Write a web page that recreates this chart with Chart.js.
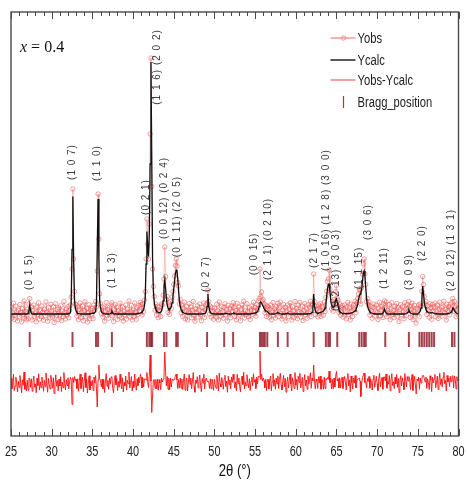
<!DOCTYPE html>
<html>
<head>
<meta charset="utf-8">
<script src="https://cdn.jsdelivr.net/npm/chart.js@4/dist/chart.umd.min.js"></script>
<style>
  html, body { margin: 0; padding: 0; background: #fff; }
  canvas { display: block; }
</style>
</head>
<body>
<canvas id="xrdChart" width="468" height="488"></canvas>
<script>
// Rietveld fit, x = 0.4

// scan grid: 25..80 deg 2theta, 0.1 deg step
const scanStart = 25;
const scanStep = 0.1;

// calculated profile, one row per degree (N.0 .. N.9)
const yCalc = [
  200,200,200,200,200,200,200,200,200,200, // 25
  200,200,200,200,200,200,200,200,200,200,
  200,202,212,236,214,203,201,200,200,200,
  200,200,200,200,200,200,200,200,200,200,
  200,200,200,200,200,200,200,200,200,200,
  200,200,200,200,200,200,200,200,200,200, // 30
  200,200,200,200,200,200,200,200,200,200,
  201,201,202,205,247,458,670,411,256,223,
  212,206,203,202,201,200,200,200,200,200,
  200,200,200,200,200,200,200,201,201,202,
  203,203,204,206,212,240,460,660,420,255, // 35
  222,210,205,203,202,201,200,200,200,200,
  200,200,201,204,212,205,201,200,200,200,
  200,200,200,200,200,200,200,200,200,200,
  200,200,200,200,200,200,200,200,200,200,
  200,200,200,200,200,201,201,202,203,204, // 40
  206,208,212,218,232,265,400,530,470,430,
  520,800,1208,820,420,290,248,228,218,212,
  208,206,205,206,208,213,224,252,310,336,
  300,262,236,224,218,218,222,230,245,270,
  300,330,360,376,372,340,290,252,230,218, // 45
  212,208,205,203,202,201,201,200,200,200,
  200,200,200,200,200,200,200,200,200,200,
  200,200,200,200,200,200,201,201,202,203,
  210,230,280,236,214,206,203,202,201,200,
  200,200,200,200,200,200,200,200,200,200, // 50
  200,200,201,202,203,202,201,200,200,200,
  200,200,201,202,204,202,201,200,200,200,
  200,200,200,200,200,200,200,200,200,200,
  200,200,200,200,200,201,201,202,202,203,
  204,205,207,210,216,230,244,248,244,236, // 55
  230,222,216,213,212,210,206,203,201,200,
  200,200,200,200,200,201,202,204,206,204,
  202,201,200,200,200,200,200,200,201,202,
  204,202,201,200,200,200,200,200,200,200,
  200,200,200,200,200,200,200,200,200,200, // 60
  200,200,200,200,200,200,201,201,202,203,
  206,222,280,234,214,207,204,203,203,205,
  206,207,208,210,212,216,224,240,270,300,
  318,320,290,255,236,228,226,230,240,255,
  260,246,230,218,211,207,205,203,202,202, // 65
  202,201,201,201,201,202,202,203,204,205,
  206,208,210,213,218,226,238,255,272,280,
  286,300,330,362,372,350,305,262,236,222,
  214,209,206,204,203,202,201,201,200,200,
  200,200,200,200,200,200,201,203,208,220, // 70
  210,204,202,201,200,200,200,200,200,200,
  200,200,200,200,200,200,200,200,200,200,
  200,200,200,200,200,201,202,204,208,216,
  208,204,202,201,200,200,200,200,200,200,
  202,204,207,212,224,262,312,280,245,228, // 75
  218,212,208,206,205,204,204,205,206,204,
  203,202,201,201,200,200,200,200,200,200,
  200,200,200,200,200,200,201,201,202,203,
  205,208,214,224,222,214,208,205,203,202,
  201                                      // 80
];

// observed counts on the same grid
const yObs = [
  226,184,205,243,178,196,231,209,172,215, // 25
  190,238,207,169,221,199,252,183,210,176,
  219,181,240,262,205,228,176,214,236,191,
  204,169,227,198,245,180,213,189,232,207,
  175,219,193,248,207,171,226,202,184,239,
  211,187,229,166,203,241,195,218,177,224, // 30
  196,233,174,212,189,250,206,180,221,198,
  230,185,214,236,268,380,700,420,290,241,
  236,192,228,177,219,244,186,208,231,173,
  214,249,190,223,168,205,237,181,216,199,
  222,181,236,214,250,228,372,680,500,281, // 35
  241,203,229,188,224,171,213,246,195,218,
  183,227,204,236,245,192,170,219,238,201,
  226,178,214,191,243,207,185,229,172,210,
  197,236,180,219,205,252,188,211,234,176,
  215,190,244,207,179,226,198,233,212,247, // 40
  238,196,241,210,256,290,420,580,480,420,
  560,920,1224,710,380,310,270,215,240,196,
  231,185,227,214,190,240,236,275,340,468,
  350,258,270,206,245,199,250,222,268,290,
  318,352,395,420,392,326,312,240,258,205, // 45
  236,190,222,247,181,214,229,176,208,242,
  203,228,185,216,250,194,171,220,207,233,
  188,215,240,197,173,226,209,244,186,218,
  238,244,296,250,200,231,188,226,210,179,
  224,201,187,239,213,176,248,205,192,230, // 50
  209,183,227,241,196,218,172,235,201,220,
  185,232,211,245,226,190,214,177,243,205,
  228,196,173,219,236,202,251,184,213,197,
  241,210,189,225,178,216,232,199,247,214,
  226,191,238,215,252,262,380,270,288,252, // 55
  258,240,205,236,190,232,228,187,219,236,
  177,213,246,195,221,184,230,208,243,190,
  225,248,201,180,216,238,193,227,172,211,
  236,190,218,244,203,176,229,212,186,250,
  199,223,181,235,210,247,188,205,231,174, // 60
  214,242,196,220,183,237,204,228,251,190,
  234,240,360,250,198,231,220,189,236,214,
  242,190,231,226,195,248,210,266,291,330,
  340,376,300,282,220,250,211,258,232,290,
  314,262,255,206,240,195,226,234,188,219, // 65
  236,212,181,229,247,198,223,176,240,214,
  190,236,218,251,206,244,262,280,300,295,
  240,306,360,400,420,360,318,250,262,236,
  248,196,230,215,183,226,240,192,211,235,
  205,178,224,247,193,216,231,186,240,252, // 70
  226,248,189,215,203,238,177,220,245,198,
  213,186,231,205,242,191,226,170,218,237,
  196,229,210,181,246,220,195,238,224,250,
  231,186,219,243,178,212,235,200,164,223,
  219,236,190,240,232,290,350,318,270,240, // 75
  250,198,233,216,187,241,225,179,238,212,
  228,244,190,213,236,182,219,247,201,225,
  192,230,251,205,218,176,239,214,229,196,
  240,221,247,262,210,250,231,189,236,218,
  224                                      // 80
];

// Bragg reflection positions (deg)
const braggPositions = [
  27.3, 32.56, 35.45, 35.7, 37.4, 41.7, 42.0, 42.2, 42.35,
  43.8, 44.1, 45.3, 45.5, 49.1, 51.2, 52.3,
  55.6, 55.8, 56.0, 56.2, 56.5, 57.8, 59.0,
  62.2, 63.7, 64.0, 64.2, 65.1, 67.8, 68.1, 68.4, 68.6,
  71.0, 73.9, 75.2, 75.5, 75.8, 76.1, 76.4, 76.7, 77.0, 79.2, 79.5
];

// Miller index labels, their 2theta and the height they sit at
const hklLabels = [
  '(0 1 5)', '(1 0 7)', '(1 1 0)', '(1 1 3)', '(0 2 1)', '(1 1 6) (2 0 2)',
  '(0 0 12) (0 2 4)', '(0 1 11) (2 0 5)', '(0 2 7)', '(0 0 15)',
  '(2 1 1) (0 2 10)', '(2 1 7)', '(1 0 16) (1 2 8) (3 0 0)', '(0 2 13) (3 0 3)',
  '(1 1 15)', '(3 0 6)', '(1 2 11)', '(3 0 9)', '(2 2 0)', '(2 0 12) (1 3 1)'
];
const hklTwoTheta = [
  27.3, 32.56, 35.6, 37.4, 41.6, 42.93, 43.8, 45.4, 49.0, 54.9,
  56.6, 62.3, 63.8, 65.0, 67.8, 68.9, 70.85, 73.9, 75.6, 79.15
];
const hklHeight = [
  368, 808, 804, 376, 668, 1188, 664, 590, 360, 440,
  500, 456, 616, 376, 384, 568, 384, 368, 484, 456
];

const xTickValues = [25, 30, 35, 40, 45, 50, 55, 60, 65, 70, 75, 80];

// ---- build the datasets ----
const twoTheta = yObs.map((_, i) => +(scanStart + i * scanStep).toFixed(1));
const diffOffset = -84;   // where the difference curve is drawn
const braggLevel = 98;    // row of Bragg ticks

const obsPts = twoTheta.map((t, i) => ({ x: t, y: yObs[i] }));
const calcPts = twoTheta.map((t, i) => ({ x: t, y: yCalc[i] }));
const diffPts = twoTheta.map((t, i) => ({ x: t, y: yObs[i] - yCalc[i] + diffOffset }));
const braggPts = braggPositions.map(p => ({ x: p, y: braggLevel }));

const sans = "'Liberation Sans', Arial, sans-serif";

// Arial-Narrow look: squeeze regular sans horizontally
function narrowText(ctx, text, x, y, align, squeeze) {
  ctx.save();
  ctx.translate(x, y);
  ctx.scale(squeeze, 1);
  ctx.textAlign = align;
  ctx.fillText(text, 0, 0);
  ctx.restore();
}

const decorPlugin = {
  id: 'decor',
  afterDatasetsDraw(chart) {
    const { ctx, chartArea: a, scales: { x, y } } = chart;
    ctx.save();

    // frame + inward ticks
    ctx.strokeStyle = '#4a4a4a';
    ctx.lineWidth = 1.4;
    ctx.strokeRect(a.left, a.top, a.right - a.left, a.bottom - a.top);
    ctx.lineWidth = 1;
    for (let v = 25; v <= 80; v++) {
      const px = Math.round(x.getPixelForValue(v)) + 0.5;
      const len = v % 5 === 0 ? 7 : 4;
      ctx.beginPath();
      ctx.moveTo(px, a.bottom); ctx.lineTo(px, a.bottom - len);
      ctx.moveTo(px, a.top); ctx.lineTo(px, a.top + len);
      ctx.stroke();
    }

    // tick labels and axis title
    ctx.fillStyle = '#222';
    ctx.textBaseline = 'middle';
    ctx.font = '14px ' + sans;
    xTickValues.forEach(v => narrowText(ctx, String(v), x.getPixelForValue(v), a.bottom + 16, 'center', 0.78));
    ctx.fillStyle = '#111';
    ctx.font = '16px ' + sans;
    narrowText(ctx, '2θ (°)', (a.left + a.right) / 2, a.bottom + 36, 'center', 0.82);

    // hkl labels
    ctx.font = '10px ' + sans;
    ctx.fillStyle = '#3c3c3c';
    ctx.letterSpacing = '1px';
    ctx.textAlign = 'center';
    hklLabels.forEach((t, i) => {
      ctx.save();
      ctx.translate(x.getPixelForValue(hklTwoTheta[i]), y.getPixelForValue(hklHeight[i]));
      ctx.rotate(-Math.PI / 2);
      ctx.fillText(t, 0, 0);
      ctx.restore();
    });
    ctx.letterSpacing = '0px';

    // composition label
    ctx.textAlign = 'left';
    ctx.fillStyle = '#111';
    ctx.font = "italic 16px 'Liberation Serif', 'Times New Roman', serif";
    const lx = a.left + 9, ly = a.top + 36;
    ctx.fillText('x', lx, ly);
    const w = ctx.measureText('x').width;
    ctx.font = "16px 'Liberation Serif', 'Times New Roman', serif";
    ctx.fillText(' = 0.4', lx + w, ly);

    // legend
    const gx = a.right - 128, rows = [a.top + 26, a.top + 48, a.top + 68, a.top + 90];
    ctx.font = '14px ' + sans;
    ctx.fillStyle = '#222';
    ['Yobs', 'Ycalc', 'Yobs-Ycalc', 'Bragg_position'].forEach((t, i) => {
      narrowText(ctx, t, gx + 27, rows[i] + 1, 'left', 0.8);
    });
    ctx.lineWidth = 1.3;
    ctx.strokeStyle = '#f08a8a';
    ctx.beginPath(); ctx.moveTo(gx, rows[0]); ctx.lineTo(gx + 25, rows[0]); ctx.stroke();
    ctx.lineWidth = 0.9;
    ctx.beginPath(); ctx.arc(gx + 13, rows[0], 2.2, 0, Math.PI * 2); ctx.stroke();
    ctx.lineWidth = 1.4;
    ctx.strokeStyle = '#111';
    ctx.beginPath(); ctx.moveTo(gx, rows[1]); ctx.lineTo(gx + 25, rows[1]); ctx.stroke();
    ctx.strokeStyle = '#f07878';
    ctx.beginPath(); ctx.moveTo(gx, rows[2]); ctx.lineTo(gx + 25, rows[2]); ctx.stroke();
    ctx.strokeStyle = '#b8303a';
    ctx.lineWidth = 1.2;
    ctx.beginPath(); ctx.moveTo(gx + 13, rows[3] - 6); ctx.lineTo(gx + 13, rows[3] + 6); ctx.stroke();

    ctx.restore();
  }
};

new Chart(document.getElementById('xrdChart'), {
  type: 'scatter',
  data: {
    datasets: [
      {
        label: 'Ycalc',
        data: calcPts,
        showLine: true,
        borderColor: '#111',
        borderWidth: 1.3,
        pointRadius: 0,
        order: 1
      },
      {
        label: 'Yobs-Ycalc',
        data: diffPts,
        showLine: true,
        borderColor: '#ff1010',
        borderWidth: 0.9,
        pointRadius: 0,
        order: 2
      },
      {
        label: 'Bragg_position',
        data: braggPts,
        showLine: false,
        pointStyle: 'line',
        rotation: 90,
        pointRadius: 7.5,
        pointBorderWidth: 2,
        pointBorderColor: 'rgba(140,20,32,0.8)',
        order: 3
      },
      {
        label: 'Yobs',
        data: obsPts,
        showLine: true,
        borderColor: 'rgba(240,120,120,0.55)',
        borderWidth: 0.8,
        pointStyle: 'circle',
        pointRadius: 2.2,
        pointBorderWidth: 0.9,
        pointBorderColor: 'rgba(235,90,90,0.65)',
        pointBackgroundColor: 'rgba(255,255,255,0)',
        order: 4
      }
    ]
  },
  options: {
    responsive: false,
    animation: false,
    devicePixelRatio: 1,
    events: [],
    layout: { padding: { left: 11, right: 6, top: 12, bottom: 52 } },
    plugins: { legend: { display: false }, tooltip: { enabled: false } },
    scales: {
      x: {
        type: 'linear',
        display: false,
        min: 25,
        max: 80,
        afterBuildTicks: axis => { axis.ticks = xTickValues.map(v => ({ value: v })); }
      },
      y: {
        display: false,
        min: -288,
        max: 1408
      }
    }
  },
  plugins: [decorPlugin]
});
</script>
</body>
</html>
